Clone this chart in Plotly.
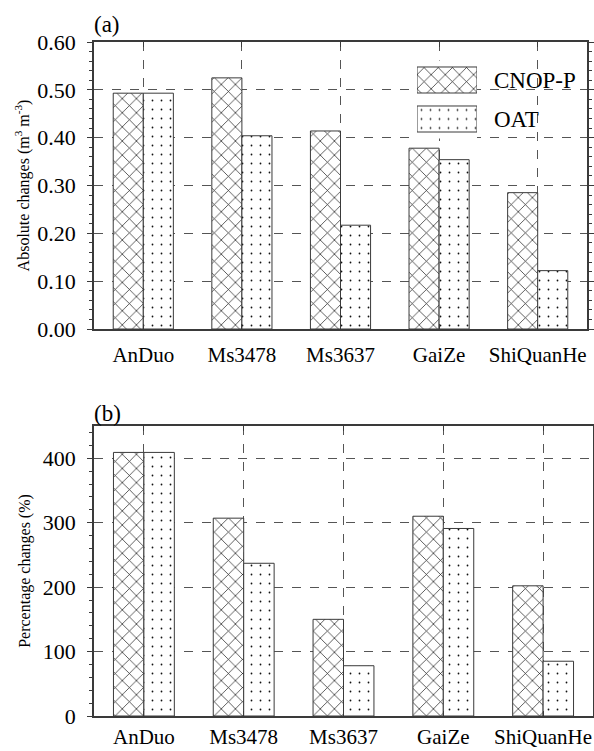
import plotly.graph_objects as go

sites = ["AnDuo", "Ms3478", "Ms3637", "GaiZe", "ShiQuanHe"]
abs_cnop = [0.493, 0.525, 0.414, 0.378, 0.285]
abs_oat = [0.493, 0.404, 0.217, 0.354, 0.122]
pct_cnop = [409, 307, 150, 310, 202]
pct_oat = [409, 237, 78, 291, 85]
legend_names = ["CNOP-P", "OAT"]

W, H = 594, 751
FONT = "Liberation Serif"
LINE = "#3a3a3a"

def px_x(v):
    return v / W

def px_y(v):
    return 1 - v / H

cross = dict(shape="x", size=10, solidity=0.14, fgcolor="#222", bgcolor="white", fillmode="replace")
dots = dict(shape=".", size=9, solidity=0.03, fgcolor="#111", bgcolor="white", fillmode="replace")

fig = go.Figure()
fig.add_trace(go.Bar(x=sites, y=abs_cnop, name="CNOP-P", xaxis="x", yaxis="y",
                     marker=dict(color="white", line=dict(color=LINE, width=1), pattern=cross),
                     showlegend=False))
fig.add_trace(go.Bar(x=sites, y=abs_oat, name="OAT", xaxis="x", yaxis="y",
                     marker=dict(color="white", line=dict(color=LINE, width=1), pattern=dots),
                     showlegend=False))
fig.add_trace(go.Bar(x=sites, y=pct_cnop, name="CNOP-P", xaxis="x2", yaxis="y2",
                     marker=dict(color="white", line=dict(color=LINE, width=1), pattern=cross),
                     showlegend=False))
fig.add_trace(go.Bar(x=sites, y=pct_oat, name="OAT", xaxis="x2", yaxis="y2",
                     marker=dict(color="white", line=dict(color=LINE, width=1), pattern=dots),
                     showlegend=False))

# legend patches (inset axis)
fig.add_trace(go.Bar(y=legend_names, x=[1, 1], orientation="h", xaxis="x3", yaxis="y3",
                     width=0.667, showlegend=False, hoverinfo="skip",
                     marker=dict(color="white", line=dict(color=LINE, width=1),
                                 pattern=dict(shape=["x", "."], size=[10, 9],
                                              solidity=[0.14, 0.03], fgcolor="#222",
                                              bgcolor="white", fillmode="replace"))))

xcommon = dict(type="category", range=[-0.5, 4.5], showline=True, linecolor=LINE, linewidth=1.5,
               mirror="ticks", ticks="inside", ticklen=5, tickcolor=LINE,
               showgrid=True, gridcolor="#555", griddash="dash", gridwidth=1,
               tickfont=dict(family=FONT, size=21, color="black"), zeroline=False,
               automargin=False)
ycommon = dict(showline=True, linecolor=LINE, linewidth=1.5, mirror="ticks", ticks="outside",
               ticklen=5, tickcolor=LINE, showgrid=True, gridcolor="#555", griddash="dash",
               gridwidth=1, zeroline=False, tickfont=dict(family=FONT, size=22, color="black"),
               ticklabelstandoff=7, automargin=False)

fig.update_layout(
    width=W, height=H, margin=dict(l=0, r=0, t=0, b=0, autoexpand=False),
    paper_bgcolor="white", plot_bgcolor="white",
    barmode="group", bargap=0.39, bargroupgap=0,
    font=dict(family=FONT, color="black"),
    xaxis=dict(domain=[px_x(94), px_x(587)], anchor="y", ticklabelstandoff=6, **xcommon),
    yaxis=dict(domain=[px_y(329), px_y(42)], anchor="x", range=[0, 0.6], dtick=0.1,
               tickformat=".2f",
               minor=dict(dtick=0.02, ticks="outside", ticklen=3, tickcolor=LINE, showgrid=False),
               title=dict(text="Absolute changes (m<sup>3</sup> m<sup>-3</sup>)",
                          font=dict(family=FONT, size=16, color="black"), standoff=4),
               **ycommon),
    xaxis2=dict(domain=[px_x(94), px_x(593)], anchor="y2", ticklabelstandoff=1, **xcommon),
    yaxis2=dict(domain=[px_y(716), px_y(426)], anchor="x2", range=[0, 450], dtick=100,
                minor=dict(dtick=20, ticks="outside", ticklen=3, tickcolor=LINE, showgrid=False),
                title=dict(text="Percentage changes (%)",
                           font=dict(family=FONT, size=16, color="black"), standoff=8),
                **ycommon),
    xaxis3=dict(domain=[px_x(417), px_x(477)], anchor="y3", range=[0, 1], visible=False,
                fixedrange=True),
    yaxis3=dict(domain=[px_y(138.5), px_y(60.5)], anchor="x3", side="right",
                autorange="reversed", showline=False, showgrid=False, ticks="",
                tickfont=dict(family=FONT, size=23, color="black"), ticklabelstandoff=16,
                fixedrange=True, automargin=False),
    annotations=[
        dict(text="(a)", x=px_x(92), y=px_y(25), xref="paper", yref="paper",
             xanchor="left", yanchor="middle", showarrow=False,
             font=dict(family=FONT, size=23, color="black")),
        dict(text="(b)", x=px_x(92), y=px_y(413), xref="paper", yref="paper",
             xanchor="left", yanchor="middle", showarrow=False,
             font=dict(family=FONT, size=23, color="black")),
    ],
)

fig.write_html("out.html")
